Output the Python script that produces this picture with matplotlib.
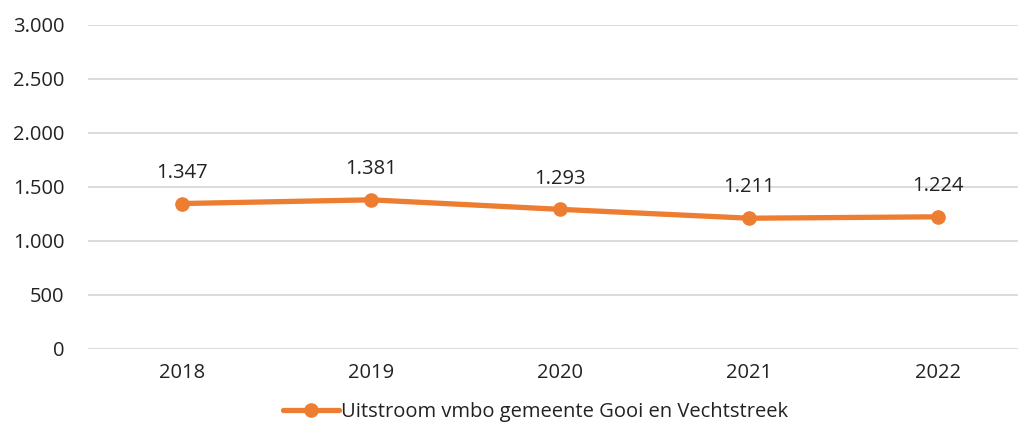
import numpy as np
import matplotlib.pyplot as plt

years = ['2018', '2019', '2020', '2021', '2022']
uitstroom = [1347, 1381, 1293, 1211, 1224]
yticks = [0, 500, 1000, 1500, 2000, 2500, 3000]

plt.rcParams['font.family'] = ['Open Sans', 'DejaVu Sans']

fig = plt.figure(figsize=(10.2, 4.25), dpi=100)
ax = fig.add_axes([88/1020, 76/425, (1018-88)/1020, 324/425])

x = np.arange(len(years))
ax.plot(x, uitstroom, color='#ED7D31', lw=3.8, marker='o', markersize=9.5,
        label='Uitstroom vmbo gemeente Gooi en Vechtstreek', solid_capstyle='round')

for xi, v in zip(x, uitstroom):
    ax.annotate('{:,}'.format(v).replace(',', '.'), (xi, v), xytext=(0, 15),
                textcoords='offset points', ha='center', va='bottom',
                fontsize=14.5, color='#222222')

ax.set_ylim(0, 3000)
ax.set_xlim(-0.5, (1018-182)/189)
ax.set_yticks(yticks)
ax.set_yticklabels(['{:,}'.format(t).replace(',', '.') for t in yticks])
ax.set_xticks(x)
ax.set_xticklabels(years)
ax.tick_params(axis='both', length=0, labelsize=14.5, colors='#222222')
ax.tick_params(axis='y', pad=17)
ax.tick_params(axis='x', pad=10)

ax.grid(axis='y', color='#d9d9d9', lw=1.3)
ax.set_axisbelow(True)
for s in ax.spines.values():
    s.set_visible(False)

fig.legend(loc='lower center', bbox_to_anchor=(0.525, -0.035), frameon=False,
           fontsize=14.5, handlelength=2.8, handletextpad=0.1, labelcolor='#222222')

fig.savefig('out.png', dpi=100)
